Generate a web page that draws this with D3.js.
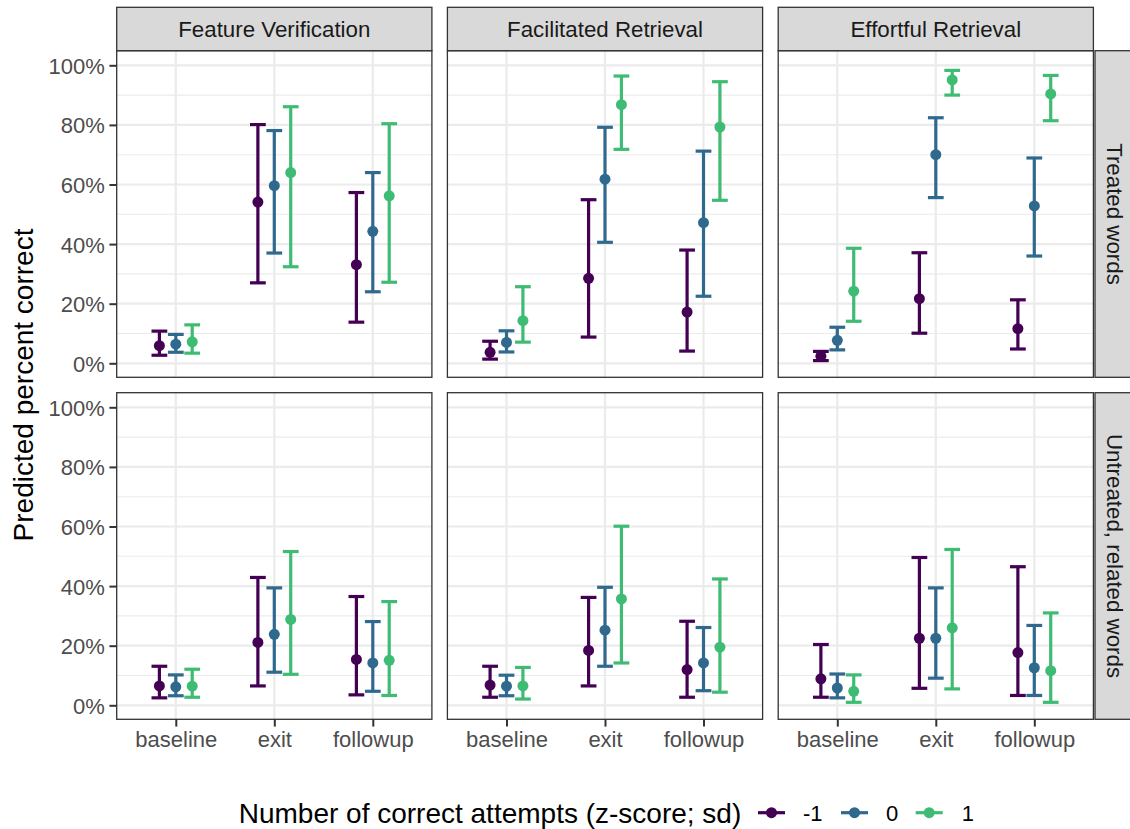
<!DOCTYPE html>
<html>
<head>
<meta charset="utf-8">
<script src="https://cdn.jsdelivr.net/npm/d3@7"></script>
<style>
  html, body { margin: 0; padding: 0; background: #fff; }
  svg { display: block; font-family: "Liberation Sans", Arial, Helvetica, sans-serif; }
</style>
</head>
<body>
<svg id="chart" width="1130" height="829"></svg>
<script>
// ---------------- DATA ----------------
const conditions = ["Feature Verification", "Facilitated Retrieval", "Effortful Retrieval"];
const wordTypes = ["Treated words", "Untreated, related words"];
const timepoints = ["baseline", "exit", "followup"];
const attempts = ["-1", "0", "1"];
const attemptColors = ["#440154", "#30698E", "#3FBC73"];
const yTicks = [0, 0.2, 0.4, 0.6, 0.8, 1.0];
const yMinor = [0.1, 0.3, 0.5, 0.7, 0.9];
const legendTitle = "Number of correct attempts (z-score; sd)";
const yTitle = "Predicted percent correct";

// each array: order baseline(-1,0,1), exit(-1,0,1), followup(-1,0,1)
// Treated words
const treatedEst = [
  [0.059, 0.064, 0.072, 0.541, 0.596, 0.640, 0.331, 0.443, 0.562],
  [0.037, 0.070, 0.143, 0.285, 0.618, 0.868, 0.172, 0.472, 0.793],
  [0.024, 0.077, 0.242, 0.217, 0.700, 0.951, 0.116, 0.528, 0.904]
];
const treatedLo = [
  [0.027, 0.037, 0.034, 0.270, 0.370, 0.324, 0.138, 0.240, 0.272],
  [0.014, 0.038, 0.071, 0.088, 0.406, 0.718, 0.041, 0.225, 0.547],
  [0.009, 0.045, 0.141, 0.101, 0.556, 0.900, 0.048, 0.360, 0.814]
];
const treatedHi = [
  [0.108, 0.097, 0.129, 0.801, 0.781, 0.861, 0.573, 0.640, 0.804],
  [0.074, 0.109, 0.257, 0.549, 0.792, 0.964, 0.380, 0.712, 0.945],
  [0.040, 0.121, 0.386, 0.371, 0.824, 0.983, 0.213, 0.689, 0.966]
];
// Untreated, related words
const untreatedEst = [
  [0.065, 0.062, 0.064, 0.211, 0.238, 0.288, 0.154, 0.142, 0.151],
  [0.068, 0.064, 0.065, 0.184, 0.252, 0.357, 0.120, 0.142, 0.195],
  [0.089, 0.058, 0.047, 0.225, 0.225, 0.260, 0.177, 0.126, 0.116]
];
const untreatedLo = [
  [0.025, 0.032, 0.027, 0.065, 0.111, 0.104, 0.035, 0.047, 0.033],
  [0.027, 0.032, 0.021, 0.065, 0.131, 0.142, 0.027, 0.049, 0.044],
  [0.027, 0.025, 0.010, 0.057, 0.091, 0.055, 0.033, 0.033, 0.010]
];
const untreatedHi = [
  [0.131, 0.102, 0.121, 0.429, 0.394, 0.516, 0.365, 0.281, 0.348],
  [0.131, 0.101, 0.127, 0.362, 0.396, 0.601, 0.282, 0.261, 0.424],
  [0.204, 0.105, 0.102, 0.496, 0.394, 0.523, 0.465, 0.268, 0.310]
];
const estByRow = [treatedEst, untreatedEst];
const loByRow = [treatedLo, untreatedLo];
const hiByRow = [treatedHi, untreatedHi];

// ---------------- LAYOUT ----------------
const svg = d3.select("#chart");
const panelLefts = [116.7, 447.4, 778.2];
const panelW = 315.2;
const panelTops = [50.7, 392.7];
const panelH = 326.6;
const stripTop = 7.3;
const stripRightX = 1095;
const stripW = 43;
const axisFont = "22px";
const stripFont = "22.3px";
const titleFont = "28px";

const x = d3.scalePoint().domain(timepoints).range([0, panelW]).padding(0.6);
const step = x.step();
const dodge = d3.scalePoint().domain(attempts).range([-step / 6, step / 6]);
const capW = step * 0.16;
const y = d3.scaleLinear().domain([-0.047, 1.049]).range([panelH, 0]);
const color = d3.scaleOrdinal().domain(attempts).range(attemptColors);

const gridCol = "#EBEBEB";
const borderCol = "#333333";

wordTypes.forEach((wt, r) => {
  conditions.forEach((cond, c) => {
    const g = svg.append("g").attr("transform", `translate(${panelLefts[c]},${panelTops[r]})`);
    g.append("rect").attr("width", panelW).attr("height", panelH).attr("fill", "#fff");
    // minor grid
    g.selectAll(".minor").data(yMinor).join("line")
      .attr("x1", 0).attr("x2", panelW)
      .attr("y1", d => y(d)).attr("y2", d => y(d))
      .attr("stroke", gridCol).attr("stroke-width", 1.1);
    // major grid
    g.selectAll(".majorY").data(yTicks).join("line")
      .attr("x1", 0).attr("x2", panelW)
      .attr("y1", d => y(d)).attr("y2", d => y(d))
      .attr("stroke", gridCol).attr("stroke-width", 2.2);
    g.selectAll(".majorX").data(timepoints).join("line")
      .attr("y1", 0).attr("y2", panelH)
      .attr("x1", d => x(d)).attr("x2", d => x(d))
      .attr("stroke", gridCol).attr("stroke-width", 2.2);

    const est = estByRow[r][c], lo = loByRow[r][c], hi = hiByRow[r][c];
    const pts = [];
    timepoints.forEach((t, ti) => attempts.forEach((a, ai) => {
      const k = ti * 3 + ai;
      pts.push({t, a, est: est[k], lo: lo[k], hi: hi[k], cx: x(t) + dodge(a)});
    }));
    const eb = g.selectAll(".eb").data(pts).join("g").attr("stroke", d => color(d.a))
      .attr("stroke-width", 3.2).attr("fill", "none");
    eb.append("line").attr("x1", d => d.cx).attr("x2", d => d.cx)
      .attr("y1", d => y(d.lo)).attr("y2", d => y(d.hi));
    eb.append("line").attr("x1", d => d.cx - capW / 2).attr("x2", d => d.cx + capW / 2)
      .attr("y1", d => y(d.lo)).attr("y2", d => y(d.lo));
    eb.append("line").attr("x1", d => d.cx - capW / 2).attr("x2", d => d.cx + capW / 2)
      .attr("y1", d => y(d.hi)).attr("y2", d => y(d.hi));
    g.selectAll(".pt").data(pts).join("circle")
      .attr("cx", d => d.cx).attr("cy", d => y(d.est)).attr("r", 5.5)
      .attr("fill", d => color(d.a));

    g.append("rect").attr("width", panelW).attr("height", panelH)
      .attr("fill", "none").attr("stroke", borderCol).attr("stroke-width", 1.3);

    // y axis on first column
    if (c === 0) {
      const ax = g.append("g").call(d3.axisLeft(y).tickValues(yTicks)
        .tickFormat(d3.format(".0%")).tickSize(7.3).tickPadding(4.5));
      ax.select(".domain").remove();
      ax.selectAll(".tick line").attr("stroke", borderCol).attr("stroke-width", 2);
      ax.selectAll(".tick text").attr("fill", "#4D4D4D").attr("font-size", axisFont)
        .attr("font-family", "Liberation Sans, Arial, sans-serif").attr("dy", "0.36em");
    }
    // x axis on bottom row
    if (r === wordTypes.length - 1) {
      const ax = g.append("g").attr("transform", `translate(0,${panelH})`)
        .call(d3.axisBottom(x).tickSize(7.3).tickPadding(4.5));
      ax.select(".domain").remove();
      ax.selectAll(".tick line").attr("stroke", borderCol).attr("stroke-width", 2);
      ax.selectAll(".tick text").attr("fill", "#4D4D4D").attr("font-size", axisFont)
        .attr("font-family", "Liberation Sans, Arial, sans-serif").attr("dy", "0.71em");
    }
    // top strips
    if (r === 0) {
      const s = svg.append("g").attr("transform", `translate(${panelLefts[c]},${stripTop})`);
      s.append("rect").attr("width", panelW).attr("height", panelTops[0] - stripTop)
        .attr("fill", "#D9D9D9").attr("stroke", borderCol).attr("stroke-width", 1.3);
      s.append("text").attr("x", panelW / 2).attr("y", (panelTops[0] - stripTop) / 2)
        .attr("dy", "0.35em").attr("text-anchor", "middle").attr("font-size", stripFont)
        .attr("fill", "#1A1A1A").text(cond);
    }
  });
  // right strip
  const s = svg.append("g").attr("transform", `translate(${stripRightX},${panelTops[r]})`);
  s.append("rect").attr("width", stripW).attr("height", panelH)
    .attr("fill", "#D9D9D9").attr("stroke", borderCol).attr("stroke-width", 1.3);
  s.append("text").attr("transform", `translate(${stripW / 2 - 1.5},${panelH / 2}) rotate(90)`)
    .attr("dy", "0.35em").attr("text-anchor", "middle").attr("font-size", stripFont)
    .attr("fill", "#1A1A1A").text(wt);
});

// y title
svg.append("text")
  .attr("transform", `translate(33,${(panelTops[0] + panelTops[1] + panelH) / 2}) rotate(-90)`)
  .attr("text-anchor", "middle").attr("font-size", titleFont).attr("fill", "#000").text(yTitle);

// legend
const legY = 812.7;
svg.append("text").attr("x", 238.7).attr("y", 822.5).attr("font-size", titleFont)
  .attr("fill", "#000").text(legendTitle);
const keyX = [758, 841, 915.7];
const labX = [803, 886, 961.7];
attempts.forEach((a, i) => {
  const k = svg.append("g");
  k.append("line").attr("x1", keyX[i]).attr("x2", keyX[i] + 27)
    .attr("y1", legY).attr("y2", legY).attr("stroke", color(a)).attr("stroke-width", 3.2);
  k.append("circle").attr("cx", keyX[i] + 13.5).attr("cy", legY).attr("r", 5.5).attr("fill", color(a));
  k.append("text").attr("x", labX[i]).attr("y", 820.5).attr("font-size", axisFont)
    .attr("fill", "#000").text(a);
});
</script>
</body>
</html>
